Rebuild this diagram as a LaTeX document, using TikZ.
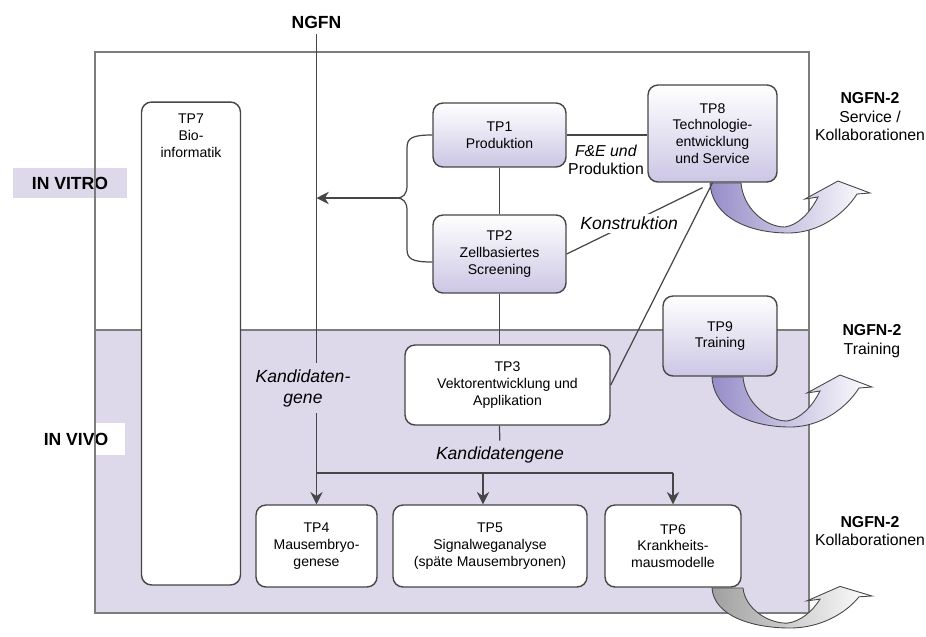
\documentclass[tikz,border=0pt]{standalone}
\usepackage{fontspec}
\setmainfont{Liberation Sans}
\usepackage{tikz}
\usetikzlibrary{shapes.geometric, arrows, arrows.meta, calc}

\definecolor{lav}{RGB}{221,217,235}
\definecolor{boxlav}{RGB}{204,198,228}
\definecolor{arrowlav}{RGB}{150,141,200}
\definecolor{framegray}{RGB}{125,125,125}
\definecolor{edge}{RGB}{70,70,70}

\tikzstyle{tpbox} = [rectangle, rounded corners=0.2cm, draw=edge, line width=0.8pt, align=center, font=\fontsize{8}{9.5}\selectfont, fill=white]
\tikzstyle{tpshade} = [tpbox, top color=white, bottom color=boxlav]
\tikzstyle{region} = [rectangle, font=\fontsize{10}{12}\selectfont\bfseries]
\tikzstyle{ngfnlbl} = [align=center, font=\fontsize{9}{10.5}\selectfont]
\tikzstyle{kand} = [align=center, font=\fontsize{10}{12}\selectfont\itshape]
\tikzstyle{arrow} = [line width=0.7pt, draw=edge, ->, >={Stealth[length=7pt,width=7pt]}]
\tikzstyle{line} = [line width=0.7pt, draw=edge]
\tikzset{bigarrow/.pic={
  \path [pic actions] (0,0) .. controls (2,35) and (40,50) .. (78,50) .. controls (110,50) and (135,30) .. (147,11) -- (160,10) -- (128,-2) -- (95,16) -- (108,14) .. controls (100,30) and (88,42) .. (75,44) .. controls (55,44) and (33,25) .. (31,0) -- cycle;
}}

\begin{document}
\begin{tikzpicture}[x=0.02cm, y=-0.02cm]
\useasboundingbox (0,0) rectangle (926,636);

\fill [lav] (95,330) rectangle (809,613);
\node (vitro) [region, fill=lav, minimum width=2.28cm, minimum height=0.6cm] at (70,183) {IN VITRO};
\node (vivo) [region, fill=white, minimum width=1.96cm, minimum height=0.64cm] at (76,439) {IN VIVO};
\draw [framegray, line width=1pt] (95,52) rectangle (809,613);
\draw [framegray, line width=1pt] (95,330) -- (809,330);

\pic [draw=edge, line width=0.5pt, left color=arrowlav, right color=white] at (710,183) {bigarrow};
\pic [draw=edge, line width=0.5pt, left color=arrowlav, right color=white] at (712,377) {bigarrow};
\pic [draw=edge, line width=0.5pt, left color=gray!75, right color=white, yscale=0.8] at (712,588) {bigarrow};

\node (tp7) [tpbox, minimum width=1.98cm, minimum height=9.66cm] at (191,343.5) {};
\node (tp7txt) [anchor=north, align=center, font=\fontsize{8}{9.5}\selectfont] at (191,108) {TP7\\Bio-\\informatik};
\node (tp1) [tpshade, minimum width=2.66cm, minimum height=1.28cm] at (499.5,135) {TP1\\Produktion};
\node (tp2) [tpshade, minimum width=2.66cm, minimum height=1.56cm] at (499.5,254) {TP2\\Zellbasiertes\\Screening};
\node (tp8) [tpshade, minimum width=2.58cm, minimum height=1.94cm] at (712.5,133.5) {TP8\\Technologie-\\entwicklung\\und Service};
\node (tp9) [tpshade, minimum width=2.28cm, minimum height=1.6cm] at (720,336) {TP9\\Training};
\node (tp3) [tpbox, minimum width=4.1cm, minimum height=1.6cm] at (507.5,385) {TP3\\Vektorentwicklung und\\Applikation};
\node (tp4) [tpbox, minimum width=2.42cm, minimum height=1.64cm] at (316.5,546) {TP4\\Mausembryo-\\genese};
\node (tp5) [tpbox, minimum width=3.88cm, minimum height=1.64cm] at (490,546) {TP5\\Signalweganalyse\\(späte Mausembryonen)};
\node (tp6) [tpbox, minimum width=2.72cm, minimum height=1.64cm] at (673,546) {TP6\\Krankheits-\\mausmodelle};

\node (ngfn) [font=\fontsize{10}{12}\selectfont\bfseries] at (316.5,22) {NGFN};
\node (kgv) [kand] at (303,388) {Kandidaten-\\gene};
\node (kgh) [kand] at (500,455) {Kandidatengene};
\node (fue) [ngfnlbl] at (606,160) {\textit{F\&E und}\\Produktion};
\node (svc) [ngfnlbl] at (870,117) {\textbf{NGFN-2}\\Service /\\Kollaborationen};
\node (trn) [ngfnlbl] at (872,341) {\textbf{NGFN-2}\\Training};
\node (kol) [ngfnlbl] at (870,531) {\textbf{NGFN-2}\\Kollaborationen};

\draw [line] (tp1) -- (tp2);
\draw [line] (tp2.south) -- (tp2.south |- tp3.north);
\draw [line] (tp1.east) -- (tp1.east -| tp8.west);
\draw [line] (tp2.east) -- node[kand, fill=white, inner sep=2pt, pos=0.46] {Konstruktion} ($(tp8.south)+(-10,5)$);
\draw [line] (tp3.east) -- (tp8.south);
\draw [line] (tp3.south -| tp2.south) -- (kgh);

\draw [line] (ngfn) -- (kgv.north -| ngfn);
\draw [arrow] (kgv.south -| ngfn) -- (tp4.north);
\coordinate (jn) at (316.5,473);
\coordinate (j5) at (483,473);
\draw [line] (jn) -- (jn -| tp6.north);
\draw [arrow] (j5) -- (j5 |- tp5.north);
\draw [arrow] (jn -| tp6.north) -- (tp6.north);

\coordinate (bt) at (397,198);
\draw [line] (tp1.west) .. controls (412,135) and (407,138) .. (407,148) -- (407,186) .. controls (407,194) and (403,198) .. (bt);
\draw [line] ($(tp2.west)+(0,8)$) .. controls (412,262) and (407,259) .. (407,249) -- (407,210) .. controls (407,202) and (403,198) .. (bt);
\draw [arrow] (bt) -- (bt -| ngfn);

\end{tikzpicture}
\end{document}
